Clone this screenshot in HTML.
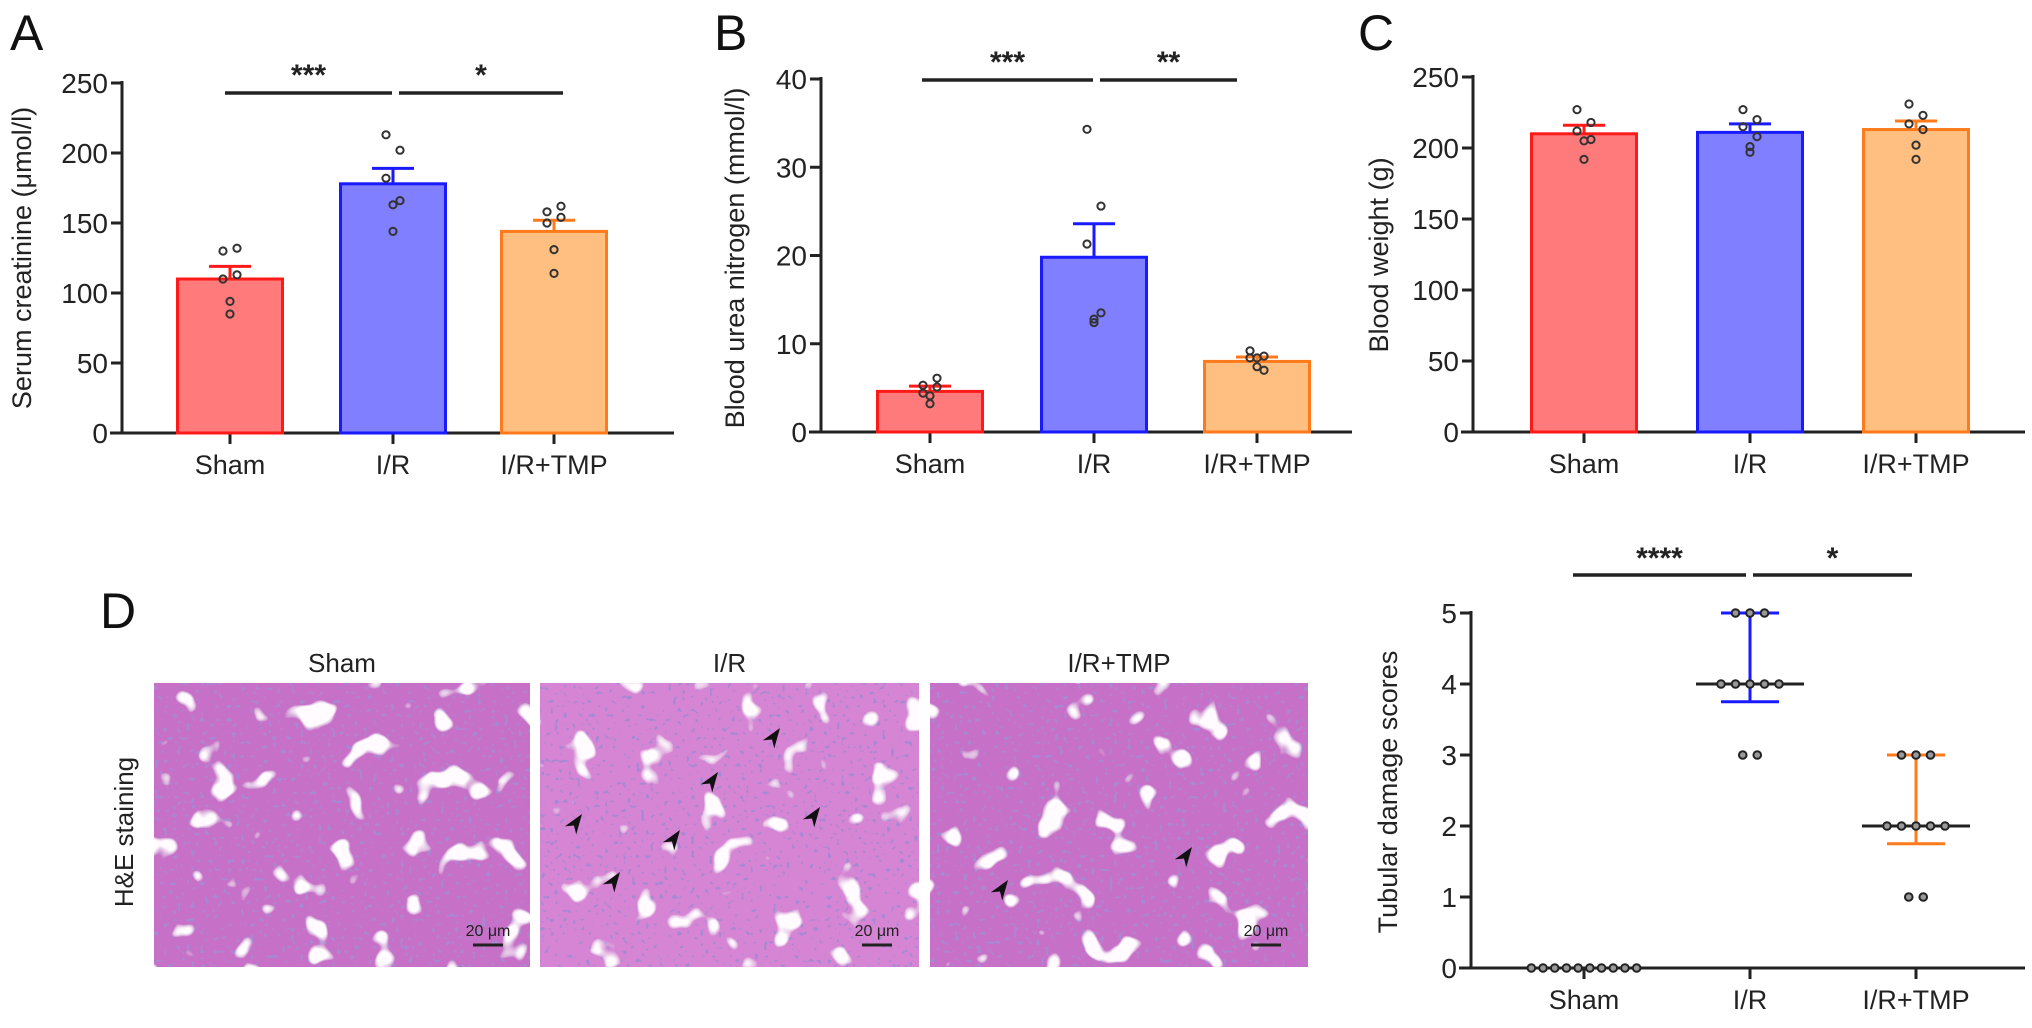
<!DOCTYPE html>
<html><head><meta charset="utf-8"><style>
html,body{margin:0;padding:0;background:#fff;}
svg{display:block;font-family:"Liberation Sans",Arial,sans-serif;}
</style></head><body>
<svg id="fig" width="2032" height="1028" viewBox="0 0 2032 1028" xmlns="http://www.w3.org/2000/svg">
<defs>
<filter id="tissue" x="0" y="0" width="100%" height="100%">
 <feTurbulence type="fractalNoise" baseFrequency="0.03" numOctaves="2" seed="3" result="n1"/>
 <feColorMatrix in="n1" type="matrix" values="0 0 0 0 1  0 0 0 0 0.97  0 0 0 0 1  0 0 0 -14 5.0" result="holes"/>
 <feTurbulence type="fractalNoise" baseFrequency="0.22" numOctaves="1" seed="8" result="n2"/>
 <feColorMatrix in="n2" type="matrix" values="0 0 0 0 0.38  0 0 0 0 0.25  0 0 0 0 0.65  0 0 0 -20 7.2" result="nuc"/>
 <feMerge><feMergeNode in="SourceGraphic"/><feMergeNode in="nuc"/><feMergeNode in="holes"/></feMerge>
</filter>
</defs>
<g id="panels"></g>
</svg>
<script>
// ---- Panel A data
const categories = ["Sham","I/R","I/R+TMP"];
const aMeans = [110,178,144];
const aSem = [9,11,8];
const aPoints = [[130,132,110,113,94,85],[213,202,182,166,163,144],[158,162,150,154,131,114]];
const aTicks = [0,50,100,150,200,250];
// ---- Panel B data
const bMeans = [4.6,19.8,8.0];
const bSem = [0.6,3.8,0.5];
const bPoints = [[5.3,6.1,4.4,5.1,4.1,3.2],[34.3,25.6,21.3,13.5,12.4,12.8],[8.4,8.6,9.2,7.0,7.4,8.4]];
const bTicks = [0,10,20,30,40];
// ---- Panel C data
const cMeans = [210,211,213];
const cSem = [6,6,6];
const cPoints = [[227,218,212,206,205,192],[227,220,215,208,201,197],[231,223,217,213,202,192]];
const cTicks = [0,50,100,150,200,250];
// ---- Tubular damage scores
const dScores = [[0,0,0,0,0,0,0,0,0,0],[5,5,5,4,4,4,4,4,3,3],[3,3,3,2,2,2,2,2,1,1]];
const dMedian = [0,4,2];
const dLow = [0,3.75,1.75];
const dHigh = [0,5,3];
const dTicks = [0,1,2,3,4,5];

const NS="http://www.w3.org/2000/svg";
const root=document.getElementById('panels');
function mk(tag,attrs,parent){const e=document.createElementNS(NS,tag);for(const k in attrs)e.setAttribute(k,attrs[k]);(parent||root).appendChild(e);return e;}
const fills=["#ff7b7b","#7f7fff","#ffbf80"];
const strokes=["#ff1a1a","#1a1aff","#ff7a1a"];

function axes(g,ax,x0,x1,yTop,yBot,ticks,max,cx,title,titleX,titleY){
  const y=v=>yBot-(v/max)*(yBot-yTop);
  let l=mk('line',{x1:ax,y1:yTop-2,x2:ax,y2:yBot,stroke:'#222','stroke-width':3},g);
  
  
  l=mk('line',{x1:ax-12,y1:yBot,x2:x1,y2:yBot,stroke:'#222','stroke-width':3},g);
  
  
  ticks.forEach(t=>{
    const tk=mk('line',{x1:ax-11,y1:y(t),x2:ax,y2:y(t),stroke:'#222','stroke-width':3},g);
    
    
    const tx=mk('text',{x:ax-14,y:y(t)+10,'font-size':28,'text-anchor':'end',fill:'#222'},g);
    tx.textContent=t;
    
    
  });
  cx.forEach((c,i)=>{
    const tk=mk('line',{x1:c,y1:yBot,x2:c,y2:yBot+11,stroke:'#222','stroke-width':3},g);
    
    
    const tx=mk('text',{x:c,y:yBot+41,'font-size':27,'text-anchor':'middle',fill:'#222'},g);
    tx.textContent=categories[i];
    
    
  });
  const tt=mk('text',{x:0,y:0,'font-size':27,'text-anchor':'middle',fill:'#222',transform:`translate(${titleX},${titleY}) rotate(-90)`},g);
  tt.textContent=title;
  
  
  return y;
}
function sig(g,y,xa,xb,xc,sa,sb,starY){
  [[xa,xb-3,sa],[xb+4,xc,sb]].forEach(([p,q,s])=>{
    const l=mk('line',{x1:p,y1:y,x2:q,y2:y,stroke:'#222','stroke-width':3.5},g);
    
    
    const t=mk('text',{x:(p+q)/2,y:starY,'font-size':30,'font-weight':'bold','text-anchor':'middle',fill:'#222'},g);
    t.textContent=s;
    
    
  });
}
function letter(ch,x,y){
  const t=mk('text',{x:x,y:y,'font-size':50,fill:'#111'});
  t.textContent=ch;
  
  
}
function barPanel(name,ax,x1,yTop,yBot,ticks,cx,means,sem,pts,title,tX,tY){
  const g=mk('g',{});
  
  
  const max=ticks[ticks.length-1];
  const y=axes(g,ax,ax,x1,yTop,yBot,ticks,max,cx,title,tX,tY);
  const bw=105;
  cx.forEach((c,i)=>{
    const b=mk('rect',{x:c-bw/2,y:y(means[i]),width:bw,height:yBot-y(means[i]),fill:fills[i],stroke:strokes[i],'stroke-width':3},g);
    
    
    const e1=mk('line',{x1:c,y1:y(means[i]),x2:c,y2:y(means[i]+sem[i]),stroke:strokes[i],'stroke-width':3},g);
    
    
    const e2=mk('line',{x1:c-21,y1:y(means[i]+sem[i]),x2:c+21,y2:y(means[i]+sem[i]),stroke:strokes[i],'stroke-width':3},g);
    
    
    pts[i].forEach((v,j)=>{
      const off=[-7,7,-7,7,0,0][j%6];
      const d=mk('circle',{cx:c+off,cy:y(v),r:3.6,fill:'none',stroke:'#333','stroke-width':2},g);
      
      
    });
  });
  return g;
}
// Panel A
letter('A',10,50);
barPanel('panel-a-serum-creatinine',122,674,83,433,aTicks,[230,393,554],aMeans,aSem,aPoints,'Serum creatinine (\u03bcmol/l)',31,258);
sig(root,93,225,395,563,'***','*',85);
// Panel B
letter('B',714,50);
barPanel('panel-b-blood-urea-nitrogen',821,1352,79,432,bTicks,[930,1094,1257],bMeans,bSem,bPoints,'Blood urea nitrogen (mmol/l)',744,258);
sig(root,80,922,1096,1237,'***','**',72);
// Panel C
letter('C',1358,50);
barPanel('panel-c-blood-weight',1473,2025,77,432,cTicks,[1584,1750,1916],cMeans,cSem,cPoints,'Blood weight (g)',1388,255);

// Panel D histology
letter('D',100,628);
const imgX=[154,540,930], imgW=[376,379,378];
categories.forEach((c,i)=>{
  const g=mk('g',{});
  
  
  const t=mk('text',{x:imgX[i]+imgW[i]/2,y:672,'font-size':26,'text-anchor':'middle',fill:'#222'},g);
  t.textContent=c;
  
  
  const r=mk('rect',{x:imgX[i],y:683,width:imgW[i],height:284,fill:i==1?'#d585d3':'#c76fc8',filter:'url(#tissue)'},g);
  
  
  const sx=imgX[i]+imgW[i]-45;
  const sb=mk('line',{x1:sx-12,y1:945,x2:sx+18,y2:945,stroke:'#222','stroke-width':3},g);
  
  
  const st=mk('text',{x:sx+3,y:936,'font-size':16,'text-anchor':'middle',fill:'#222'},g);
  st.textContent='20 \u03bcm';
  
  
});
const he=mk('text',{x:0,y:0,'font-size':26,'text-anchor':'middle',fill:'#222',transform:'translate(133,832) rotate(-90)'});
he.textContent='H&E staining';


// arrowheads on images
const arrowPts=[[780,728],[718,772],[582,814],[680,830],[820,807],[620,872],[1008,880],[1192,847]];
arrowPts.forEach(p=>{
  const a=mk('path',{d:`M${p[0]},${p[1]} l-7,20 l7,-6 l7,6 z`,fill:'#111',transform:`rotate(35 ${p[0]} ${p[1]})`});
  
  
});

// Scatter panel: Tubular damage scores
(function(){
  const g=mk('g',{});
  
  
  const cx=[1584,1750,1916];
  const y=axes(g,1471,1471,2025,613,968,dTicks,5,cx,'Tubular damage scores',1397,792);
  cx.forEach((c,i)=>{
    if(i>0){
      const v=mk('line',{x1:c,y1:y(dLow[i]),x2:c,y2:y(dHigh[i]),stroke:strokes[i],'stroke-width':3},g);
      
      
      [dLow[i],dHigh[i]].forEach(val=>{
        const cap=mk('line',{x1:c-29,y1:y(val),x2:c+29,y2:y(val),stroke:strokes[i],'stroke-width':3},g);
        
        
      });
      const m=mk('line',{x1:c-54,y1:y(dMedian[i]),x2:c+54,y2:y(dMedian[i]),stroke:'#222','stroke-width':3},g);
      
      
    }
    const groups={};
    dScores[i].forEach(v=>{groups[v]=(groups[v]||0)+1;});
    const sp=i==0?11.7:14.5;
    Object.keys(groups).forEach(k=>{
      const n=groups[k];
      for(let j=0;j<n;j++){
        const d=mk('circle',{cx:c+(j-(n-1)/2)*sp,cy:y(+k),r:3.8,fill:'#999',stroke:'#222','stroke-width':2},g);
        
        
      }
    });
  });
  sig(g,575,1573,1749,1912,'****','*',568);
})();
</script>
</body></html>
